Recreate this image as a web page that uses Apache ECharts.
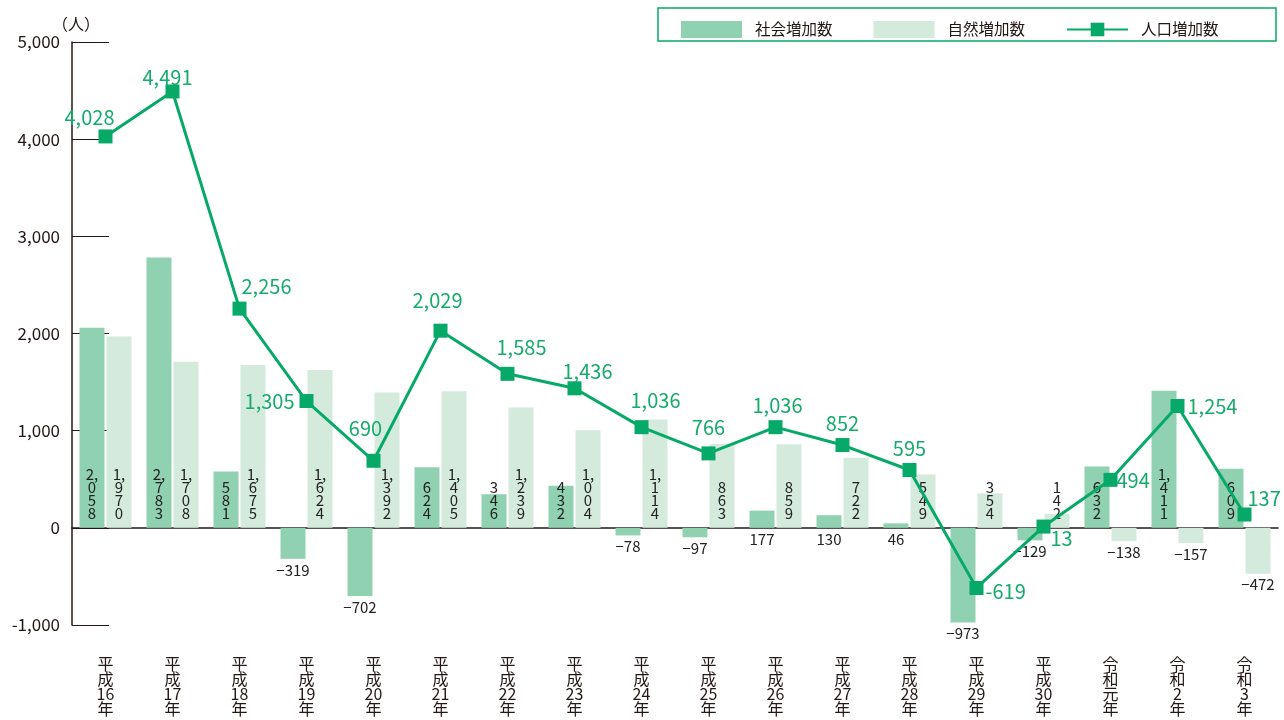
<!DOCTYPE html>
<html>
<head>
<meta charset="utf-8">
<script src="https://cdn.jsdelivr.net/npm/echarts@6/dist/echarts.min.js"></script>
<style>
  html, body { margin: 0; padding: 0; background: #fff; }
  #chart { width: 1284px; height: 720px; }
</style>
</head>
<body>
<div id="chart"></div>
<script>
const categories = ['平成16年', '平成17年', '平成18年', '平成19年', '平成20年', '平成21年', '平成22年', '平成23年', '平成24年',
  '平成25年', '平成26年', '平成27年', '平成28年', '平成29年', '平成30年', '令和元年', '令和2年', '令和3年']
const socialIncrease = [2058, 2783, 581, -319, -702, 624, 346, 432, -78, -97, 177, 130, 46, -973, -129, 632, 1411, 609]
const naturalIncrease = [1970, 1708, 1675, 1624, 1392, 1405, 1239, 1004, 1114, 863, 859, 722, 549, 354, 142, -138, -157, -472]
const populationIncrease = [4028, 4491, 2256, 1305, 690, 2029, 1585, 1436, 1036, 766, 1036, 852, 595, -619, 13, 494, 1254, 137]
const yTicks = [-1000, 0, 1000, 2000, 3000, 4000, 5000]

const FONT = 'Noto Sans CJK JP'
const GREEN = '#07a968'
const GREEN_TEXT = '#15ab6b'
const DARK = '#231815'

// where the line labels sit, per point
const linePos = ['top', 'top', 'top', 'left', 'top', 'top', 'top', 'top', 'top', 'top', 'top', 'top', 'top',
  'right', 'right', 'right', 'right', 'right']
const lineOffset = [[-16, 3], [-5, 8], [27, 0], [0, 0], [-8, -10], [-3, -8], [14, -4], [13, 5], [14, -5],
  [0, -4], [2, 0], [0, 0], [0, 0], [-3, 3], [-5, 12], [-6, 1], [-2, 0], [-9, -16]]

const fmt = v => Math.abs(v).toLocaleString('en-US')

// vertical digits, the comma stays with the digit before it
function vertical(v) {
  const lines = []
  fmt(v).split('').forEach(ch => {
    if (ch === ',') lines[lines.length - 1] += ','
    else lines.push(ch)
  })
  return lines.join('\n')
}

function barData(values, minInside) {
  return values.map(v => {
    const inside = v > 0 && v >= minInside
    return {
      value: v,
      label: inside
        ? { position: 'insideBottom', distance: 8, lineHeight: 13, formatter: p => vertical(p.value) }
        : { position: 'bottom', distance: 3, lineHeight: 16, formatter: p => (p.value < 0 ? '\u2212' : '') + fmt(p.value) }
    }
  })
}

const chart = echarts.init(document.getElementById('chart'))
chart.setOption({
  animation: false,
  textStyle: { fontFamily: FONT },
  grid: { left: 72, right: 6, top: 42, bottom: 95, outerBoundsMode: 'none' },
  graphic: [{
    type: 'rect',
    shape: { x: 658, y: 8, width: 618, height: 33 },
    style: { fill: 'none', stroke: GREEN, lineWidth: 1.5 },
    z: 10
  }],
  legend: {
    left: 676,
    top: 16,
    itemWidth: 61,
    itemHeight: 17,
    itemGap: 41,
    textStyle: { fontSize: 15.5, color: DARK, fontFamily: FONT, padding: [0, 0, 0, 8] },
    data: [
      { name: '社会増加数', icon: 'rect' },
      { name: '自然増加数', icon: 'rect' },
      { name: '人口増加数' }
    ]
  },
  xAxis: [{
    type: 'category',
    data: categories,
    axisLine: { onZero: true, lineStyle: { color: DARK, width: 1.5 } },
    axisTick: { inside: true, length: 14, lineStyle: { color: DARK, width: 1.2 } },
    axisLabel: { show: false }
  }, {
    type: 'category',
    data: categories,
    position: 'bottom',
    axisLine: { show: false, onZero: false },
    axisTick: { show: false },
    axisLabel: {
      margin: 31,
      fontSize: 16,
      lineHeight: 15,
      color: DARK,
      fontFamily: FONT,
      formatter: s => s.match(/\d+|./g).join('\n')
    }
  }],
  yAxis: {
    type: 'value',
    min: yTicks[0],
    max: yTicks[yTicks.length - 1],
    interval: 1000,
    name: '（人）',
    nameLocation: 'end',
    nameGap: 10,
    nameTextStyle: { fontSize: 16, color: DARK, align: 'center', padding: [0, 0, 0, 8] },
    axisLine: { show: true, lineStyle: { color: DARK, width: 1.5 } },
    axisTick: { show: true, inside: true, length: 37, lineStyle: { color: DARK, width: 1.2 } },
    axisLabel: {
      margin: 12,
      fontSize: 17,
      color: DARK,
      formatter: v => v < 0 ? '-' + fmt(v) : fmt(v)
    },
    splitLine: { show: false }
  },
  series: [{
    name: '社会増加数',
    type: 'bar',
    barWidth: 25,
    barGap: '8%',
    itemStyle: { color: '#90d1b1' },
    label: { show: true, color: '#222', fontSize: 15, fontFamily: FONT },
    data: barData(socialIncrease, 300)
  }, {
    name: '自然増加数',
    type: 'bar',
    barWidth: 25,
    barGap: '8%',
    itemStyle: { color: '#d3eadd' },
    label: { show: true, color: '#222', fontSize: 15, fontFamily: FONT },
    data: barData(naturalIncrease, 0)
  }, {
    name: '人口増加数',
    type: 'line',
    z: 5,
    symbol: 'rect',
    symbolSize: 14,
    lineStyle: { color: GREEN, width: 3 },
    itemStyle: { color: GREEN },
    label: { show: true, color: GREEN_TEXT, fontSize: 20, fontFamily: FONT },
    data: populationIncrease.map((v, i) => ({
      value: v,
      label: {
        position: linePos[i],
        offset: lineOffset[i],
        formatter: p => (p.value < 0 ? '-' : '') + fmt(p.value)
      }
    }))
  }]
})
</script>
</body>
</html>
